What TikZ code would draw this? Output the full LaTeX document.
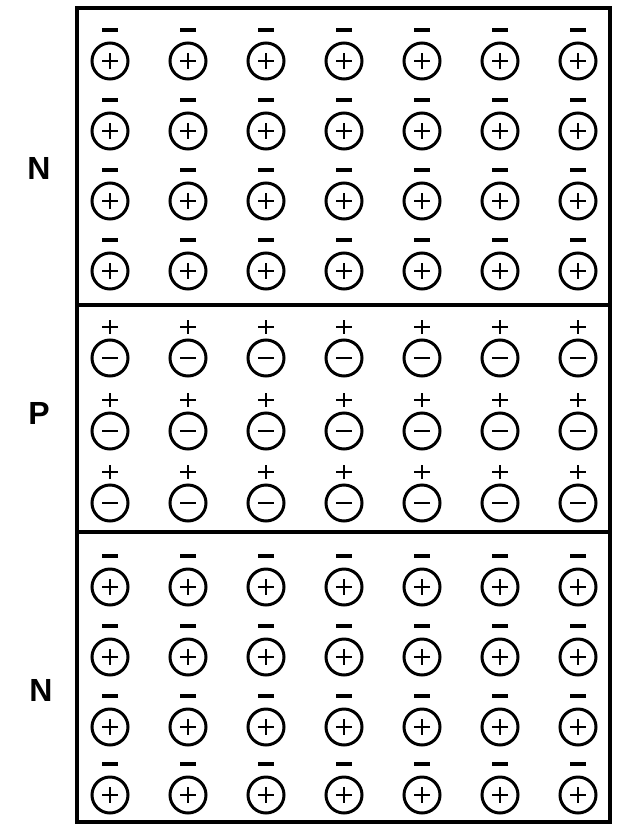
\documentclass[tikz,border=0pt]{standalone}
\usepackage{fontspec}
\setmainfont{Liberation Sans}
\begin{document}
\begin{tikzpicture}[x=1pt, y=-1pt, line width=2.4pt]
  \tikzset{ion/.style={line width=3pt},
           sgn/.style={line width=2.7pt},
           lbl/.style={font=\fontsize{32}{32}\selectfont\bfseries}}
  \useasboundingbox (0,0) rectangle (626,830);
  % cristal y uniones
  \draw[line width=4pt] (77,8) rectangle (610,822);
  \draw[line width=3.6pt] (77,305) -- (610,305);
  \draw[line width=3.6pt] (77,532) -- (610,532);
  % zona N de arriba: donores ionizados + electrones
  \foreach \x in {110,188,...,580} { \foreach \y in {61,131,201,271} {
    \draw[ion] (\x,\y) circle (18pt);
    \draw[sgn] (\x-8,\y) -- (\x+8,\y) (\x,\y-8) -- (\x,\y+8);
    \draw[sgn, line width=3.2pt] (\x-8,\y-31) -- (\x+8,\y-31);
  }}
  % zona P: aceptores ionizados + huecos
  \foreach \x in {110,188,...,580} { \foreach \y in {358,431,503} {
    \draw[ion] (\x,\y) circle (18pt);
    \draw[sgn] (\x-8,\y) -- (\x+8,\y);
    \draw[sgn] (\x-8,\y-31) -- (\x+8,\y-31) (\x,\y-38) -- (\x,\y-24);
  }}
  % zona N de abajo
  \foreach \x in {110,188,...,580} { \foreach \y in {587,657,727,795} {
    \draw[ion] (\x,\y) circle (18pt);
    \draw[sgn] (\x-8,\y) -- (\x+8,\y) (\x,\y-8) -- (\x,\y+8);
    \draw[sgn, line width=3.2pt] (\x-8,\y-31) -- (\x+8,\y-31);
  }}
  \node[lbl] (n1) at (39,168) {N};
  \node[lbl] (p) at (39,413) {P};
  \node[lbl] (n2) at (41,690) {N};
\end{tikzpicture}
\end{document}
